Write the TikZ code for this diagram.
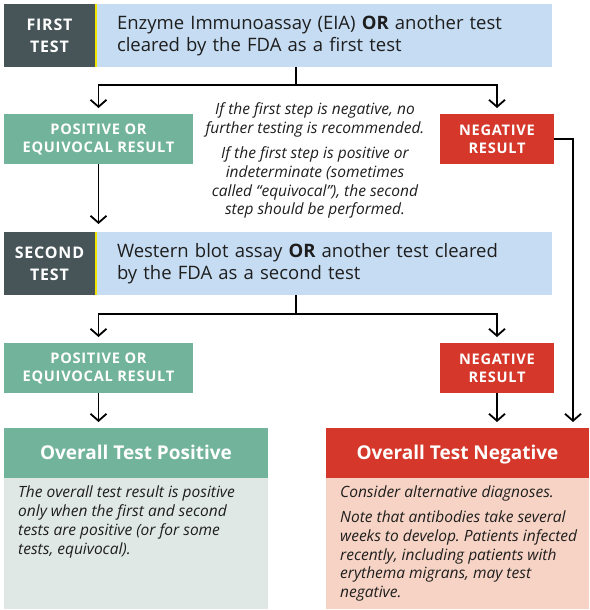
\documentclass[tikz,border=0pt]{standalone}
\usepackage{fontspec}
\setmainfont{Open Sans}
\newfontfamily\trackfont[LetterSpace=5]{Open Sans}
\usetikzlibrary{arrows.meta}
\frenchspacing
\definecolor{slate}{HTML}{475558}
\definecolor{tealg}{HTML}{72B39C}
\definecolor{redc}{HTML}{D5382A}
\definecolor{lblue}{HTML}{C6DCF2}
\definecolor{ylw}{HTML}{F2E400}
\definecolor{posbody}{HTML}{DFE8E4}
\definecolor{negbody}{HTML}{F6D3C4}
\definecolor{ink}{HTML}{1E1E1E}
\tikzset{
  box/.style={anchor=north west, inner sep=0pt, outer sep=0pt},
  tag/.style={box, fill=slate, text=white, font=\trackfont\bfseries\fontsize{16}{22}\selectfont, align=center, minimum width=91pt, minimum height=63pt},
  testbox/.style={box, fill=lblue, text=ink, minimum width=455pt, minimum height=63pt, text width=415pt, inner xsep=20pt, align=left, font=\fontsize{18.5}{22}\selectfont},
  result/.style={box, text=white, font=\trackfont\bfseries\fontsize{14.6}{18}\selectfont, align=center, minimum height=50pt},
  posres/.style={result, fill=tealg, minimum width=189pt},
  negres/.style={result, fill=redc, minimum width=114pt},
  head/.style={box, text=white, font=\bfseries\fontsize{19}{22}\selectfont, minimum height=50pt, text height=13.6pt, text depth=0pt},
  bodybox/.style={box, minimum height=131pt},
  note/.style={inner sep=0pt, text=ink, font=\itshape\fontsize{15.5}{18.8}\selectfont},
  ln/.style={line width=1.8pt},
  arr/.style={line width=1.8pt, -{Straight Barb[length=7pt,width=16pt]}, shorten >=6pt},
}
\begin{document}
\begin{tikzpicture}[x=1pt, y=-1pt]
\useasboundingbox (0,0) rectangle (589,610);
% first test
\node[tag] (t1) at (4,4) {FIRST\\TEST};
\node[testbox] (b1) at (97,4) {Enzyme Immunoassay (EIA) \textbf{OR} another test\\cleared by the FDA as a first test};
\draw[ylw, line width=2pt] ([xshift=1pt]t1.north east) -- ([xshift=1pt]t1.south east);
\node[posres] (p1) at (4,114) {POSITIVE OR\\EQUIVOCAL RESULT};
\node[negres] (n1) at (440,114) {NEGATIVE\\RESULT};
\coordinate (j1) at (296,85);
\draw[ln] (b1.south -| j1) -- (j1);
\draw[arr] (j1) -| (p1.north);
\draw[arr] (j1) -| (n1.north);
\node[note, align=center, anchor=north] (nt1) at (315,102.5) {If the first step is negative, no\\further testing is recommended.};
\node[note, align=center, anchor=north] (nt2) at (315,146.5) {If the first step is positive or\\indeterminate (sometimes\\called ``equivocal''), the second\\step should be performed.};
% second test
\node[tag] (t2) at (4,232) {SECOND\\TEST};
\node[testbox] (b2) at (97,232) {Western blot assay \textbf{OR} another test cleared\\by the FDA as a second test};
\draw[ylw, line width=2pt] ([xshift=1pt]t2.north east) -- ([xshift=1pt]t2.south east);
\draw[arr, shorten >=8pt] (p1.south) -- (t2.north -| p1.south);
\node[posres] (p2) at (4,343) {POSITIVE OR\\EQUIVOCAL RESULT};
\node[negres] (n2) at (440,343) {NEGATIVE\\RESULT};
\coordinate (j2) at (296,314);
\draw[ln] (b2.south -| j2) -- (j2);
\draw[arr] (j2) -| (p2.north);
\draw[arr] (j2) -| (n2.north);
% outcomes
\node[head, fill=tealg, minimum width=264pt] (hp) at (4,428) {Overall Test Positive};
\node[head, fill=redc, minimum width=263pt] (hn) at (326,428) {Overall Test Negative};
\node[bodybox, fill=posbody, minimum width=264pt] (bp) at (4,478) {};
\node[bodybox, fill=negbody, minimum width=263pt] (bn) at (326,478) {};
\node[note, align=left, anchor=north west] (tp) at (18,486) {The overall test result is positive\\only when the first and second\\tests are positive (or for some\\tests, equivocal).};
\node[note, align=left, anchor=north west] (tn1) at (340,486) {Consider alternative diagnoses.};
\node[note, align=left, anchor=north west] (tn2) at (340,510.5) {Note that antibodies take several\\weeks to develop. Patients infected\\recently, including patients with\\erythema migrans, may test\\negative.};
\draw[arr] (p2.south) -- (hp.north -| p2.south);
\draw[arr] (n2.south) -- (hn.north -| n2.south);
\draw[arr] (n1.east) -| ([xshift=-16pt]hn.north east);
\end{tikzpicture}
\end{document}
